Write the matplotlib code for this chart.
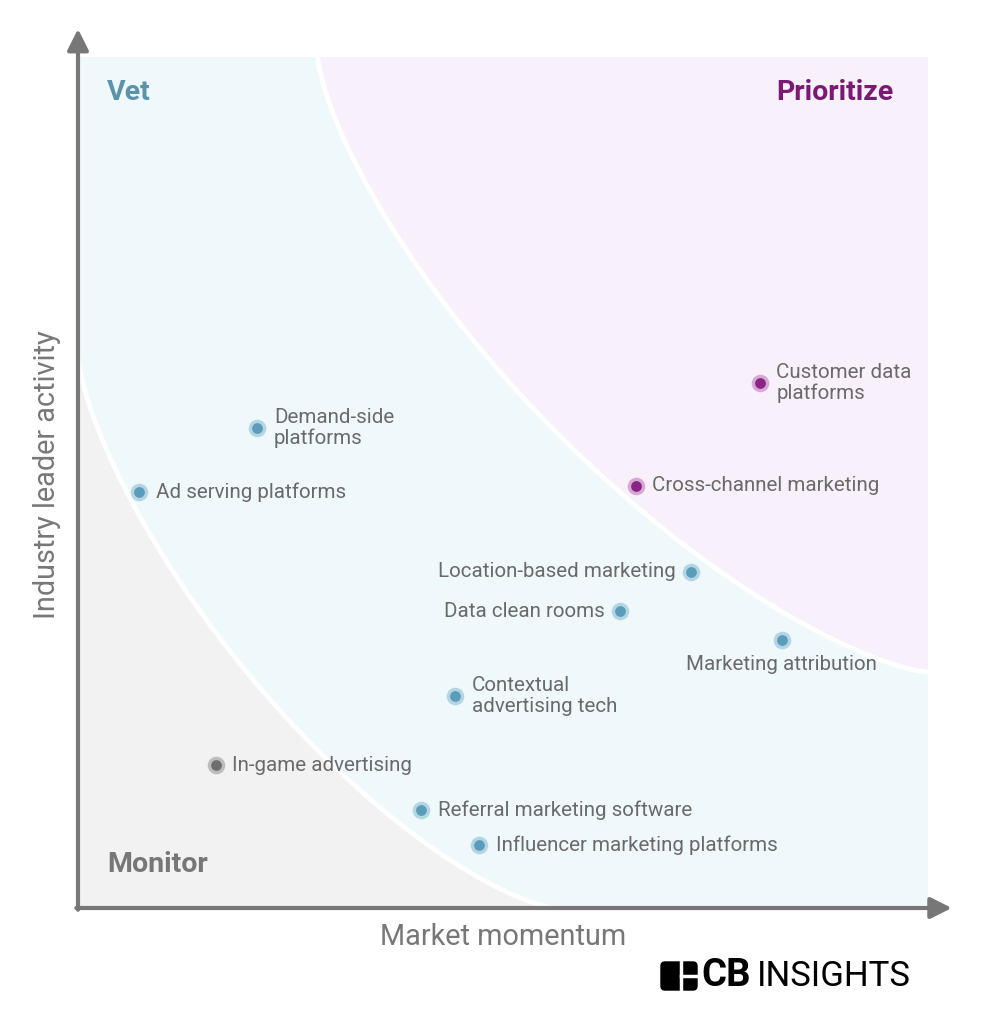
import numpy as np
import matplotlib
matplotlib.use('Agg')
import matplotlib.pyplot as plt
from matplotlib.patches import FancyBboxPatch, Rectangle

plt.rcParams['font.family'] = ['Roboto', 'DejaVu Sans']

# market names, momentum (x) and leader activity (y), 0-100 scale
names = ['Customer data\nplatforms', 'Cross-channel marketing', 'Demand-side\nplatforms',
         'Ad serving platforms', 'Location-based marketing', 'Data clean rooms',
         'Marketing attribution', 'Contextual\nadvertising tech', 'In-game advertising',
         'Referral marketing software', 'Influencer marketing platforms']
momentum = [80.2, 65.6, 21.1, 7.2, 72.1, 63.8, 82.8, 44.4, 16.2, 40.4, 47.2]
activity = [61.7, 49.6, 56.4, 48.9, 39.5, 34.9, 31.5, 24.9, 16.8, 11.5, 7.4]
group = ['prioritize', 'prioritize', 'vet', 'vet', 'vet', 'vet', 'vet', 'vet',
         'monitor', 'vet', 'vet']

# where the label sits relative to its dot
label_side = ['right', 'right', 'right', 'right', 'left', 'left', 'below',
              'right', 'right', 'right', 'right']

dot_col = {'prioritize': '#8a2487', 'vet': '#5b9cba', 'monitor': '#6e6e6e'}
halo_col = {'prioritize': '#d7a8d4', 'vet': '#b4d6e4', 'monitor': '#bdbdbd'}

fig = plt.figure(figsize=(9.92, 10.24), dpi=100)
ax = fig.add_axes([78/992, 116/1024, 850/992, 851/1024])
ax.set_xlim(0, 100)
ax.set_ylim(0, 100)
ax.axis('off')

# zone backgrounds
ax.add_patch(Rectangle((0, 0), 100, 100, color='#eff8fa', zorder=0))
p = 1.4
t = np.linspace(0, np.pi/2, 300)
c = np.cos(t)**(2/p)
s = np.sin(t)**(2/p)
px = 100 - 71.8*c
py = 100 - 72.3*s
ax.fill(np.r_[px, 100], np.r_[py, 100], color='#f8f0fb', zorder=1, lw=0)
ax.plot(px, py, color='white', lw=3.5, zorder=2)
gx = 56.1*(1 - c)
gy = 64.8*(1 - s)
ax.fill(np.r_[gx, 0], np.r_[gy, 0], color='#f2f2f2', zorder=1, lw=0)
ax.plot(gx, gy, color='white', lw=3.5, zorder=2)

# axes arrows
arr = dict(arrowstyle='-|>', color='#777777', lw=3, mutation_scale=32, shrinkA=0, shrinkB=0)
ax.annotate('', xy=(0, 103.3), xytext=(0, -0.2), arrowprops=arr, annotation_clip=False)
ax.annotate('', xy=(102.8, 0), xytext=(-0.2, 0), arrowprops=arr, annotation_clip=False)

# points and labels
fs = 14.8
for n, x, y, g, side in zip(names, momentum, activity, group, label_side):
    ax.scatter(x, y, s=160, color=halo_col[g], zorder=3, lw=0)
    ax.scatter(x, y, s=60, color=dot_col[g], zorder=4, lw=0)
    if side == 'right':
        ax.annotate(n, (x, y), xytext=(12, 0), textcoords='offset points',
                    ha='left', va='center', fontsize=fs, color='#6a6a6a',
                    linespacing=1.15, zorder=5)
    elif side == 'left':
        ax.annotate(n, (x, y), xytext=(-11, 0), textcoords='offset points',
                    ha='right', va='center', fontsize=fs, color='#6a6a6a', zorder=5)
    else:
        ax.annotate(n, (x, y), xytext=(0, -18), textcoords='offset points',
                    ha='center', va='center', fontsize=fs, color='#6a6a6a', zorder=5)

# zone titles
fig.text(107/992, 1 - 93/1024, 'Vet', fontsize=20.5, fontweight='bold', color='#5b93aa', va='center')
fig.text(893/992, 1 - 93/1024, 'Prioritize', fontsize=20.5, fontweight='bold', color='#7b1a74',
         va='center', ha='right')
fig.text(107/992, 1 - 865/1024, 'Monitor', fontsize=20.5, fontweight='bold', color='#777777', va='center')

# axis titles
fig.text(503/992, 1 - 937/1024, 'Market momentum', fontsize=20.8, color='#777777',
         ha='center', va='center')
fig.text(47/992, 1 - 475/1024, 'Industry leader activity', fontsize=20.8, color='#777777',
         ha='center', va='center', rotation=90)

# CB Insights logo
lx, ly, lw_, lh = 661/992, 1 - 990/1024, 36/992, 28/1024
fig.patches.append(FancyBboxPatch((lx, ly), lw_, lh, boxstyle='round,pad=0,rounding_size=0.004',
                                  transform=fig.transFigure, color='black', figure=fig))
fig.add_artist(plt.Line2D([lx + lw_*0.55, lx + lw_*0.55], [ly, ly + lh], color='white', lw=2.5,
                          transform=fig.transFigure))
fig.add_artist(plt.Line2D([lx + lw_*0.55, lx + lw_], [ly + lh*0.5, ly + lh*0.5], color='white', lw=2.5,
                          transform=fig.transFigure))
fig.text(701/992, 1 - 976/1024, 'CB', fontsize=27.5, fontweight='bold', color='black',
         va='center', ha='left')
fig.text(757/992, 1 - 976/1024, 'INSIGHTS', fontsize=25, color='black',
         va='center', ha='left')

fig.savefig('out.png', dpi=100, facecolor='white')
